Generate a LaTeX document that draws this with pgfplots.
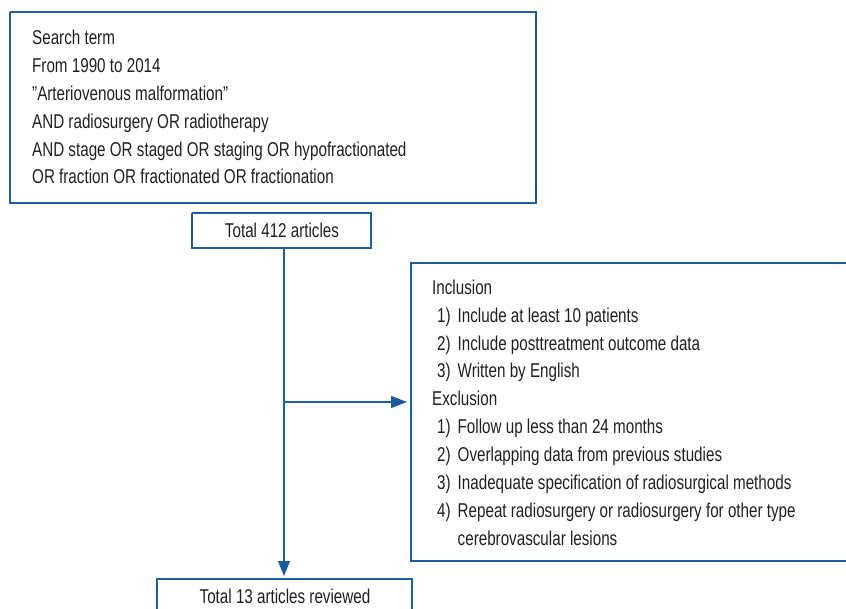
\documentclass[border=0pt]{standalone}
\usepackage{pgfplots}
\pgfplotsset{compat=1.18}
\usepackage{fontspec}
\setmainfont{Liberation Sans}[FakeStretch=0.76]
\usetikzlibrary{arrows.meta}
\definecolor{fb}{HTML}{1E5CA0}
\definecolor{tx}{HTML}{231F20}
\begin{document}
\begin{tikzpicture}
\begin{axis}[scale only axis, width=846pt, height=609pt,
  xmin=0, xmax=846, ymin=0, ymax=609, y dir=reverse,
  hide axis, clip=true]
\addplot[draw=none, forget plot] coordinates {(0,0) (846,609)};
% boxes
\addplot[fb, line width=1.3pt, forget plot] coordinates {(10,12) (536,12) (536,203) (10,203) (10,12)};
\addplot[fb, line width=1.3pt, forget plot] coordinates {(192,213) (371,213) (371,248) (192,248) (192,213)};
\addplot[fb, line width=1.3pt, forget plot] coordinates {(852,263) (411,263) (411,561) (852,561)};
\addplot[fb, line width=1.3pt, forget plot] coordinates {(157,620) (157,579) (412,579) (412,620)};
% connectors
\addplot[fb, line width=1.3pt, -{Triangle[length=15pt,width=12pt]}, forget plot] coordinates {(284,248) (284,576)};
\addplot[fb, line width=1.3pt, -{Triangle[length=16pt,width=12pt]}, forget plot] coordinates {(284,402) (407,402)};
% text
\begin{scope}[every node/.style={text=tx, inner sep=0pt, font=\fontsize{20}{24}\selectfont}]
\node[anchor=base west] at (axis cs:32,45) {Search term};
\node[anchor=base west] at (axis cs:32,72.8) {From 1990 to 2014};
\node[anchor=base west] at (axis cs:32,100.6) {\char"22 Arteriovenous malformation\char"22};
\node[anchor=base west] at (axis cs:32,128.4) {AND radiosurgery OR radiotherapy};
\node[anchor=base west] at (axis cs:32,156.2) {AND stage OR staged OR staging OR hypofractionated};
\node[anchor=base west] at (axis cs:32,184) {OR fraction OR fractionated OR fractionation};
\node[anchor=base] at (axis cs:282,237.7) {Total 412 articles};
\node[anchor=base west] at (axis cs:432,294.3) {Inclusion};
\node[anchor=base west] at (axis cs:437,322.2) {1)};
\node[anchor=base west] at (axis cs:457.5,322.2) {Include at least 10 patients};
\node[anchor=base west] at (axis cs:437,350.1) {2)};
\node[anchor=base west] at (axis cs:457.5,350.1) {Include posttreatment outcome data};
\node[anchor=base west] at (axis cs:437,378) {3)};
\node[anchor=base west] at (axis cs:457.5,378) {Written by English};
\node[anchor=base west] at (axis cs:432,405.9) {Exclusion};
\node[anchor=base west] at (axis cs:437,433.8) {1)};
\node[anchor=base west] at (axis cs:457.5,433.8) {Follow up less than 24 months};
\node[anchor=base west] at (axis cs:437,461.7) {2)};
\node[anchor=base west] at (axis cs:457.5,461.7) {Overlapping data from previous studies};
\node[anchor=base west] at (axis cs:437,489.6) {3)};
\node[anchor=base west] at (axis cs:457.5,489.6) {Inadequate specification of radiosurgical methods};
\node[anchor=base west] at (axis cs:437,517.5) {4)};
\node[anchor=base west] at (axis cs:457.5,517.5) {Repeat radiosurgery or radiosurgery for other type};
\node[anchor=base west] at (axis cs:457.5,545.4) {cerebrovascular lesions};
\node[anchor=base] at (axis cs:285,603) {Total 13 articles reviewed};
\end{scope}
\end{axis}
\end{tikzpicture}
\end{document}
